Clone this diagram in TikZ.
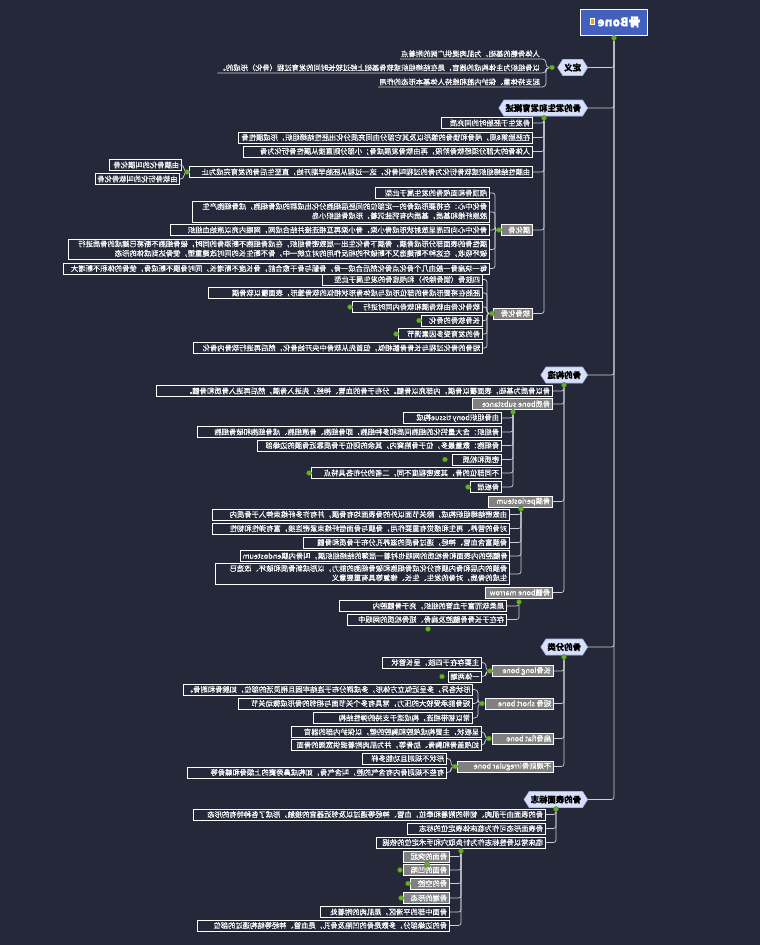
\documentclass[tikz,border=0pt]{standalone}
\usepackage{fontspec}
\setmainfont{Noto Sans CJK SC}[FakeBold=0.5]
\usepackage{graphicx}
\usetikzlibrary{shapes.symbols}
\definecolor{bg}{RGB}{36,40,56}
\definecolor{linec}{RGB}{205,207,215}
\definecolor{topicf}{RGB}{214,224,250}
\definecolor{topicd}{RGB}{170,185,235}
\definecolor{grayf}{RGB}{128,128,128}
\definecolor{rootf}{RGB}{68,96,190}
\definecolor{dotg}{RGB}{105,175,40}
\definecolor{dotd}{RGB}{60,120,20}
\newcommand\leaffont{\fontsize{7.3}{9.4}\selectfont}
\newcommand\topicfont{\fontsize{8.4}{10}\selectfont\bfseries}
\newsavebox\mmbox
\newcommand\mirtext[2]{\sbox\mmbox{#2}\ifdim\wd\mmbox<#1\relax\reflectbox{\makebox[#1][l]{\usebox\mmbox}}\else\reflectbox{\usebox\mmbox}\fi}
\newcommand\mmleaf[6]{%
  \pgfmathsetlengthmacro\mmw{#4-#3-5}%
  \pgfmathsetlengthmacro\mmW{#4-#3}%
  \node[#1, anchor=east, minimum width=\mmW] (#2) at (#4,#5) {\mirtext{\mmw}{#6}};}
\newcommand\two[2]{\begin{tabular}{@{}l@{}}#1\\#2\end{tabular}}
\begin{document}
\begin{tikzpicture}[x=1pt,y=-1pt,
  conn/.style={draw=linec, line width=0.7pt, rounded corners=2.5pt},
  curly/.style={conn, rounded corners=3.5pt},
  leafbox/.style={draw=white, line width=0.9pt, fill=bg, text=white, inner xsep=2pt, inner ysep=1pt, minimum height=11pt, font=\leaffont},
  graybox/.style={leafbox, fill=grayf},
  deftext/.style={text=white, inner xsep=1pt, inner ysep=1.5pt, font=\leaffont},
  topicbox/.style={signal, signal to=east and west, signal pointer angle=115, fill=topicf, draw=topicd, line width=0.6pt, text=black, font=\topicfont, minimum height=16pt, inner xsep=1.5pt, inner ysep=1pt},
  rootbox/.style={rectangle, fill=rootf, draw=white, line width=1pt, text=white, font=\fontsize{12}{14}\selectfont\bfseries, minimum width=67pt, minimum height=26pt},
  dotc/.style={circle, fill=dotg, draw=dotd, line width=0.4pt, inner sep=0pt, minimum size=5pt}]
\useasboundingbox[fill=bg] (0,0) rectangle (760,945);

% ---------- root and main topics ----------
\node[rootbox] (root) at (614,22) {\reflectbox{骨Bone\hspace{10pt}}};
\node[fill=orange!80!yellow, draw=white, line width=0.5pt, inner sep=0pt, minimum width=4.5pt, minimum height=5.5pt] (ricon) at (592,21) {};
\node[topicbox, anchor=east] (t1) at (588,67.5) {\reflectbox{定义}};
\node[topicbox, anchor=east] (t2) at (588,108) {\reflectbox{骨的发生和发育概述}};
\node[topicbox, anchor=east] (t3) at (588,375) {\reflectbox{骨的构造}};
\node[topicbox, anchor=east] (t4) at (588,647) {\reflectbox{骨的分类}};
\node[topicbox, anchor=east] (t5) at (588,799.5) {\reflectbox{骨的表面标志}};

% ---------- expand dots (coordinates) ----------
\coordinate (cRoot) at (614,38);
\coordinate (cT1) at (552,67.5);
\coordinate (cT2) at (544,118);
\coordinate (cA4) at (187,172);
\coordinate (cAM) at (499,230);
\coordinate (cAR) at (492,313.5);
\coordinate (cT3) at (564,385);
\coordinate (cG2) at (513,412);
\coordinate (cG3) at (521,509);
\coordinate (cG4) at (519,602);
\coordinate (cT4) at (564,657);
\coordinate (cK1) at (490,671);
\coordinate (cK2) at (482,703.5);
\coordinate (cK3) at (489,738.5);
\coordinate (cK4) at (455,766.5);
\coordinate (cT5) at (556,809);
\coordinate (cE3) at (461,851);
% collapsed markers
\coordinate (xS3) at (350,307);
\coordinate (xS4) at (419,320.5);
\coordinate (xS5) at (396,334);
\coordinate (xQ4) at (445,459.5);
\coordinate (xQ5) at (309,473);
\coordinate (xQ6) at (468,487);
\coordinate (xB2) at (428,629);
\coordinate (xK1b) at (442,676.5);
\coordinate (xF1) at (427,864);
\coordinate (xF2) at (400,870);
\coordinate (xF3) at (408,883.5);
\coordinate (xF4) at (401,898);

% ---------- definition ----------
\node[deftext, anchor=south east] (d1) at (541,59) {\reflectbox{人体骨骼的基础，为肌肉提供广阔的附着点}};
\node[deftext, anchor=south east] (d2) at (541,73) {\reflectbox{以骨组织为主体构成的器官，是在结缔组织或软骨基础上经过较长时间的发育过程（骨化）形成的。}};
\node[deftext, anchor=south east] (d3) at (541,87) {\reflectbox{起支持体重、保护内脏和维持人体基本形态的作用}};

% ---------- development ----------
\mmleaf{leafbox}{a1}{442}{533}{123}{骨发生于胚胎时的间充质}
\mmleaf{leafbox}{a2}{239}{533}{137.5}{在胚胎第8周，颅骨和锁骨的雏形以及其它部分由间充质分化出胚性结缔组织，形成膜性骨}
\mmleaf{leafbox}{a3}{244}{533}{151.5}{人体骨的大部分须经软骨阶段，再由软骨发展成骨；小部分则直接从膜性骨衍化为骨}
\mmleaf{leafbox}{a4}{190}{533}{172}{由膜性结缔组织或软骨衍化为骨的过程叫骨化，这一过程从胚胎早期开始，直至生后骨的发育完成为止}
\mmleaf{leafbox}{a4x}{110}{182}{165}{由膜骨化的叫膜化骨}
\mmleaf{leafbox}{a4y}{96}{180}{179}{由软骨衍化的叫软骨化骨}
\mmleaf{graybox}{aM}{502}{533}{230}{膜化骨}
\mmleaf{leafbox}{m1}{376}{490}{193}{颅顶骨和面颅骨的发生属于此型}
\mmleaf{leafbox}{m2}{193}{490}{212}{\two{骨化中心：在将要形成骨的一定部位的间胚层细胞分化出成群的成骨细胞，成骨细胞产生}{胶原纤维和基质，基质内有钙盐沉着，形成骨组织小岛}}
\mmleaf{leafbox}{m3}{171}{490}{230}{骨化中心向四周呈放射状形成骨小梁，骨小梁再互相连接并结合成网，网眼内充以原始血组织}
\mmleaf{leafbox}{m4}{69}{490}{249.5}{\two{膜性骨的表面部分形成骨膜，骨膜下骨化生出一层致密骨组织，在成骨细胞不断添骨的同时，破骨细胞不断将已建成的骨质进行}{破坏吸收，在这种不断建造又不断破坏的相反作用的对立统一中，骨不断生长的同时改建重塑，使骨达到成体的形态}}
\mmleaf{leafbox}{m5}{64}{490}{268.5}{每一块扁骨一般由几个骨化点骨化然后合成一骨，骨骺与骨干愈合前，骨长度不断增长，同时骨膜不断成骨，使骨的体积不断增大}
\mmleaf{graybox}{aR}{494}{533}{313.5}{软骨化骨}
\mmleaf{leafbox}{s1}{323}{483}{279.5}{四肢骨（锁骨除外）和颅底骨的发生属于此型}
\mmleaf{leafbox}{s2}{209}{483}{293}{胚胎在将要形成骨的部位形成与成体骨形状相似的软骨雏形，表面覆以软骨膜}
\mmleaf{leafbox}{s3}{353}{483}{307}{软骨化骨由软骨膜和软骨内同时进行}
\mmleaf{leafbox}{s4}{422}{483}{320.5}{长骨软骨的骨化}
\mmleaf{leafbox}{s5}{399}{483}{334}{骨的发育受多因素调节}
\mmleaf{leafbox}{s6}{194}{483}{348}{短骨的骨化过程与长骨骨骺相似，但首先从软骨中央开始骨化，然后再进行软骨内骨化}

% ---------- structure ----------
\mmleaf{leafbox}{g1}{157}{553}{391}{骨以骨质为基础，表面覆以骨膜，内部充以骨髓。分布于骨的血管、神经，先进入骨膜，然后再进入骨质和骨髓。}
\mmleaf{graybox}{g2}{473}{553}{404}{骨质bone substance}
\mmleaf{leafbox}{q1}{404}{502}{418}{由骨组织bony tissue构成}
\mmleaf{leafbox}{q2}{198}{502}{432}{骨组织：含大量钙化的细胞间质和多种细胞，即骨细胞、骨原细胞、成骨细胞和破骨细胞}
\mmleaf{leafbox}{q3}{258}{502}{445.5}{骨细胞：数量最多，位于骨陷窝内，其余的则位于骨质靠近骨膜的边缘部}
\mmleaf{leafbox}{q4}{453}{502}{459.5}{密质和松质}
\mmleaf{leafbox}{q5}{312}{502}{473}{不同部位的骨，其致密程度不同，二者的分布各具特点}
\mmleaf{leafbox}{q6}{471}{502}{487}{骨板层}
\mmleaf{graybox}{g3}{489}{553}{501.5}{骨膜periosteum}
\mmleaf{leafbox}{p1}{213}{510}{514.5}{由致密结缔组织构成，除关节面以外的骨表面均有骨膜，并有许多纤维束伸入于骨质内}
\mmleaf{leafbox}{p2}{213}{510}{528.5}{对骨的营养、再生和感觉有重要作用，骨膜与骨面借纤维束紧密连接，富有弹性和韧性}
\mmleaf{leafbox}{p3}{304}{510}{542.5}{骨膜富含血管、神经，通过骨质的滋养孔分布于骨质和骨髓}
\mmleaf{leafbox}{p4}{245}{510}{556}{骨髓腔的内表面和骨松质的网眼也衬着一层薄的结缔组织膜，叫骨内膜endosteum}
\mmleaf{leafbox}{p5}{216}{510}{574}{\two{骨膜的内层和骨内膜有分化成骨细胞和破骨细胞的能力，以形成新骨质和破坏、改造已}{生成的骨质，对骨的发生、生长、修复等具有重要意义}}
\mmleaf{graybox}{g4}{486}{553}{592.5}{骨髓bone marrow}
\mmleaf{leafbox}{b1}{340}{507}{606}{是柔软而富于血管的组织，充于骨髓腔内}
\mmleaf{leafbox}{b2}{348}{507}{619.5}{存在于长骨骨髓腔及扁骨、短骨松质的网眼中}

% ---------- classification ----------
\mmleaf{graybox}{k1}{493}{554}{671}{长骨long bone}
\mmleaf{leafbox}{k1a}{383}{482}{662.5}{主要存在于四肢，呈长管状}
\mmleaf{leafbox}{k1b}{453}{482}{676.5}{一体两端}
\mmleaf{graybox}{k2}{486}{554}{703.5}{短骨 short bone}
\mmleaf{leafbox}{k2a}{193}{473}{689.5}{形状各异，多呈近似立方体形，多成群分布于连结牢固且稍灵活的部位，如腕骨和跗骨。}
\mmleaf{leafbox}{k2b}{239}{473}{703.5}{短骨能承受较大的压力，常具有多个关节面与相邻的骨形成微动关节}
\mmleaf{leafbox}{k2c}{314}{473}{718}{常以韧带相连，构成适于支持的弹性结构}
\mmleaf{graybox}{k3}{493}{554}{738.5}{扁骨flat bone}
\mmleaf{leafbox}{k3a}{292}{482}{732}{呈板状，主要构成颅腔和胸腔的壁，以保护内部的器官}
\mmleaf{leafbox}{k3b}{292}{482}{745}{如颅盖骨和胸骨、肋骨等，并为肌肉附着提供宽阔的骨面}
\mmleaf{graybox}{k4}{458}{554}{766.5}{不规则骨irregular bone}
\mmleaf{leafbox}{k4a}{363}{447}{758.5}{形状不规则且功能多样}
\mmleaf{leafbox}{k4b}{188}{447}{772.5}{有些不规则骨内有含气的腔，叫含气骨，如构成鼻旁窦的上颌骨和蝶骨等}

% ---------- surface ----------
\mmleaf{leafbox}{e1}{194}{546}{814.5}{骨的表面由于肌肉、韧带的附着和牵拉，血管、神经等通过以及邻近器官的接触，形成了各种特有的形态}
\mmleaf{leafbox}{e2}{408}{546}{828.5}{骨表面形态可作为临床体表定位的标志}
\mmleaf{leafbox}{e3}{377}{546}{842.5}{临床常以骨性标志作为针灸取穴和手术定位的依据}
\mmleaf{graybox}{f1}{404}{450}{856.5}{骨面的突起}
\mmleaf{graybox}{f2}{404}{450}{870}{骨面的凹陷}
\mmleaf{graybox}{f3}{411}{450}{883.5}{骨的空腔}
\mmleaf{graybox}{f4}{404}{450}{898}{骨端的形态}
\mmleaf{leafbox}{f5}{321}{450}{912}{骨面中部的平滑区，是肌肉的附着处}
\mmleaf{leafbox}{f6}{198}{450}{925.5}{骨的边缘部分，多数是骨的凹陷及骨孔，是血管、神经等结构通过的部位}

% ---------- connectors ----------
\draw[conn] (root.south) -- (cRoot);
\foreach \t in {t1,t2,t3,t4,t5} \draw[conn] (cRoot) |- (\t.east);
% definition (underlined lines)
\foreach \d in {d1,d2,d3} \draw[curly] (cT1) -| ([xshift=5pt]\d.south east) -- (\d.south west);
% bottom-attached branches
\foreach \c in {a1,a2,a3,a4,aM,aR} \draw[conn] (cT2) |- (\c.east);
\foreach \c in {g1,g2,g3,g4} \draw[conn] (cT3) |- (\c.east);
\foreach \c in {q1,q2,q3,q4,q5,q6} \draw[conn] (cG2) |- (\c.east);
\foreach \c in {p1,p2,p3,p4,p5} \draw[conn] (cG3) |- (\c.east);
\foreach \c in {b1,b2} \draw[conn] (cG4) |- (\c.east);
\foreach \c in {k1,k2,k3,k4} \draw[conn] (cT4) |- (\c.east);
\foreach \c in {e1,e2,e3} \draw[conn] (cT5) |- (\c.east);
\foreach \c in {f1,f2,f3,f4,f5,f6} \draw[conn] (cE3) |- (\c.east);
% left-attached branches
\foreach \c in {a4x,a4y} \draw[curly] (cA4) -- ([xshift=-3pt]cA4) |- (\c.east);
\foreach \c in {m1,m2,m3,m4,m5} \draw[conn] (cAM) -- ([xshift=-4pt]cAM) |- (\c.east);
\foreach \c in {s1,s2,s3,s4,s5,s6} \draw[conn] (cAR) -- ([xshift=-5pt]cAR) |- (\c.east);
\foreach \c in {k1a,k1b} \draw[curly] (cK1) -- ([xshift=-4pt]cK1) |- (\c.east);
\foreach \c in {k2a,k2b,k2c} \draw[curly] (cK2) -- ([xshift=-4pt]cK2) |- (\c.east);
\foreach \c in {k3a,k3b} \draw[curly] (cK3) -- ([xshift=-4pt]cK3) |- (\c.east);
\foreach \c in {k4a,k4b} \draw[curly] (cK4) -- ([xshift=-4pt]cK4) |- (\c.east);

% ---------- dots ----------
\foreach \c in {cRoot,cT1,cT2,cA4,cAM,cAR,cT3,cG2,cG3,cG4,cT4,cK1,cK2,cK3,cK4,cT5,cE3,
  xS3,xS4,xS5,xQ4,xQ5,xQ6,xB2,xK1b,xF1,xF2,xF3,xF4}
  \node[dotc] (\c-dot) at (\c) {};
\end{tikzpicture}
\end{document}
